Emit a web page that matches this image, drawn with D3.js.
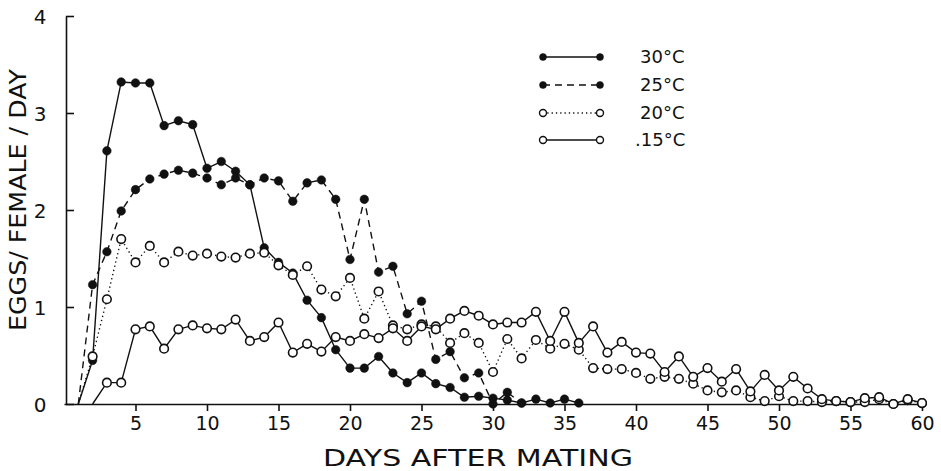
<!DOCTYPE html>
<html>
<head>
<meta charset="utf-8">
<script src="https://cdn.jsdelivr.net/npm/d3@7"></script>
<style>
  html, body { margin: 0; padding: 0; background: #fff; }
  svg text { font-family: "DejaVu Sans", sans-serif; fill: #111; }
</style>
</head>
<body>
<svg id="chart" width="941" height="471"></svg>
<script>
// ---- data ----
const days30 = [1,2,3,4,5,6,7,8,9,10,11,12,13,14,15,16,17,18,19,20,21,22,23,24,25,26,27,28,29,30,31,32,33,34,35,36];
const eggs30 = [0,0.45,2.61,3.32,3.31,3.31,2.87,2.92,2.88,2.43,2.50,2.40,2.26,1.61,1.46,1.35,1.07,0.89,0.56,0.37,0.37,0.49,0.32,0.22,0.32,0.21,0.17,0.07,0.08,0.06,0.04,0.01,0.05,0.01,0.05,0.01];

const days25 = [1,2,3,4,5,6,7,8,9,10,11,12,13,14,15,16,17,18,19,20,21,22,23,24,25,26,27,28,29,30,31,32];
const eggs25 = [0,1.23,1.57,1.99,2.21,2.32,2.37,2.41,2.38,2.33,2.26,2.33,2.26,2.33,2.30,2.09,2.28,2.31,2.11,1.49,2.11,1.36,1.42,0.93,1.06,0.46,0.54,0.27,0.32,0.0,0.12,0.01];

const days20 = [1,2,3,4,5,6,7,8,9,10,11,12,13,14,15,16,17,18,19,20,21,22,23,24,25,26,27,28,29,30,31,32,33,34,35,36,37,38,39,40,41,42,43,44,45,46,47,48,49,50,51,52,53,54,55,56,57,58,59,60];
const eggs20 = [0,0.49,1.08,1.70,1.46,1.63,1.46,1.57,1.53,1.55,1.52,1.51,1.55,1.56,1.43,1.33,1.42,1.18,1.11,1.30,0.88,1.16,0.81,0.77,0.82,0.80,0.63,0.73,0.63,0.33,0.67,0.47,0.66,0.57,0.62,0.56,0.37,0.36,0.36,0.32,0.26,0.28,0.26,0.21,0.14,0.12,0.14,0.07,0.03,0.08,0.03,0.03,0.02,0.03,0.02,0.02,0.05,0.0,0.04,0.01];

const days15 = [2,3,4,5,6,7,8,9,10,11,12,13,14,15,16,17,18,19,20,21,22,23,24,25,26,27,28,29,30,31,32,33,34,35,36,37,38,39,40,41,42,43,44,45,46,47,48,49,50,51,52,53,54,55,56,57,58,59,60];
const eggs15 = [0,0.22,0.22,0.77,0.80,0.57,0.77,0.81,0.78,0.77,0.87,0.65,0.69,0.84,0.53,0.62,0.54,0.69,0.65,0.72,0.68,0.78,0.65,0.80,0.77,0.88,0.96,0.91,0.82,0.84,0.84,0.95,0.65,0.95,0.63,0.80,0.53,0.64,0.53,0.52,0.33,0.49,0.28,0.37,0.23,0.36,0.13,0.30,0.14,0.28,0.16,0.05,0.03,0.02,0.06,0.07,0.0,0.05,0.01];

const seriesNames = ["30°C", "25°C", "20°C", ".15°C"];
const xTicks = [5,10,15,20,25,30,35,40,45,50,55,60];
const yTicks = [0,1,2,3,4];
const xTitle = "DAYS AFTER MATING";
const yTitle = "EGGS/ FEMALE / DAY";

// ---- styles ----
const styles = [
  {dash: null,    filled: true},
  {dash: "7,5",   filled: true},
  {dash: "1.3,3", filled: false},
  {dash: null,    filled: false}
];
const series = [
  {days: days30, vals: eggs30},
  {days: days25, vals: eggs25},
  {days: days20, vals: eggs20},
  {days: days15, vals: eggs15}
];

const svg = d3.select("#chart");
const x = d3.scaleLinear().domain([0, 60]).range([64, 922]);
const y = d3.scaleLinear().domain([0, 4]).range([404, 16]);

// axes
const gx = svg.append("g").attr("transform", `translate(0,${y(0)})`)
  .call(d3.axisBottom(x).tickValues(xTicks).tickSize(7).tickSizeOuter(0).tickPadding(6));
gx.select(".domain").attr("stroke", "#111").attr("stroke-width", 1.6);
gx.selectAll(".tick line").attr("stroke", "#111").attr("stroke-width", 1.6);
gx.selectAll(".tick text").style("font-size", "19px").attr("fill", "#111");

const gy = svg.append("g").attr("transform", `translate(${x(0) + 2},0)`)
  .call(d3.axisRight(y).tickValues(yTicks).tickSize(8).tickSizeOuter(0).tickFormat(d3.format("d")));
gy.select(".domain").attr("stroke", "#111").attr("stroke-width", 1.6);
gy.selectAll(".tick line").attr("stroke", "#111").attr("stroke-width", 1.6);
gy.selectAll(".tick text").attr("x", -26).attr("text-anchor", "middle")
  .style("font-size", "20px").attr("fill", "#111").attr("dy", "0.35em");

// titles
svg.append("text").attr("x", 478).attr("y", 466).attr("text-anchor", "middle")
  .attr("textLength", 310).attr("lengthAdjust", "spacingAndGlyphs")
  .style("font-size", "23px").text(xTitle);
svg.append("text").attr("transform", "translate(26,200) rotate(-90)")
  .attr("text-anchor", "middle").attr("textLength", 262).attr("lengthAdjust", "spacingAndGlyphs")
  .style("font-size", "23px").text(yTitle);

// lines and markers
const line = d3.line().x(d => x(d[0])).y(d => y(d[1]));
series.forEach((s, i) => {
  const pts = s.days.map((d, j) => [d, s.vals[j]]);
  const st = styles[i];
  svg.append("path").datum(pts).attr("d", line)
    .attr("fill", "none").attr("stroke", "#111").attr("stroke-width", 1.4)
    .attr("stroke-dasharray", st.dash);
  svg.append("g").selectAll("circle").data(pts.slice(1)).join("circle")
    .attr("cx", d => x(d[0])).attr("cy", d => y(d[1]))
    .attr("r", 4.3)
    .attr("fill", st.filled ? "#111" : "#fff")
    .attr("stroke", "#111").attr("stroke-width", st.filled ? 0.5 : 1.6);
});

// legend
const legendRows = [57, 85, 113, 140];
seriesNames.forEach((name, i) => {
  const st = styles[i];
  const yy = legendRows[i];
  const g = svg.append("g");
  g.append("line").attr("x1", 543).attr("x2", 600).attr("y1", yy).attr("y2", yy)
    .attr("stroke", "#111").attr("stroke-width", 1.4).attr("stroke-dasharray", st.dash);
  [543, 600].forEach(cx => g.append("circle").attr("cx", cx).attr("cy", yy).attr("r", 3.5)
    .attr("fill", st.filled ? "#111" : "#fff").attr("stroke", "#111")
    .attr("stroke-width", st.filled ? 0.5 : 1.4));
  g.append("text").attr("x", i === 3 ? 635 : 640).attr("y", yy).attr("dy", "0.35em")
    .style("font-size", "18px").text(name);
});
</script>
</body>
</html>
